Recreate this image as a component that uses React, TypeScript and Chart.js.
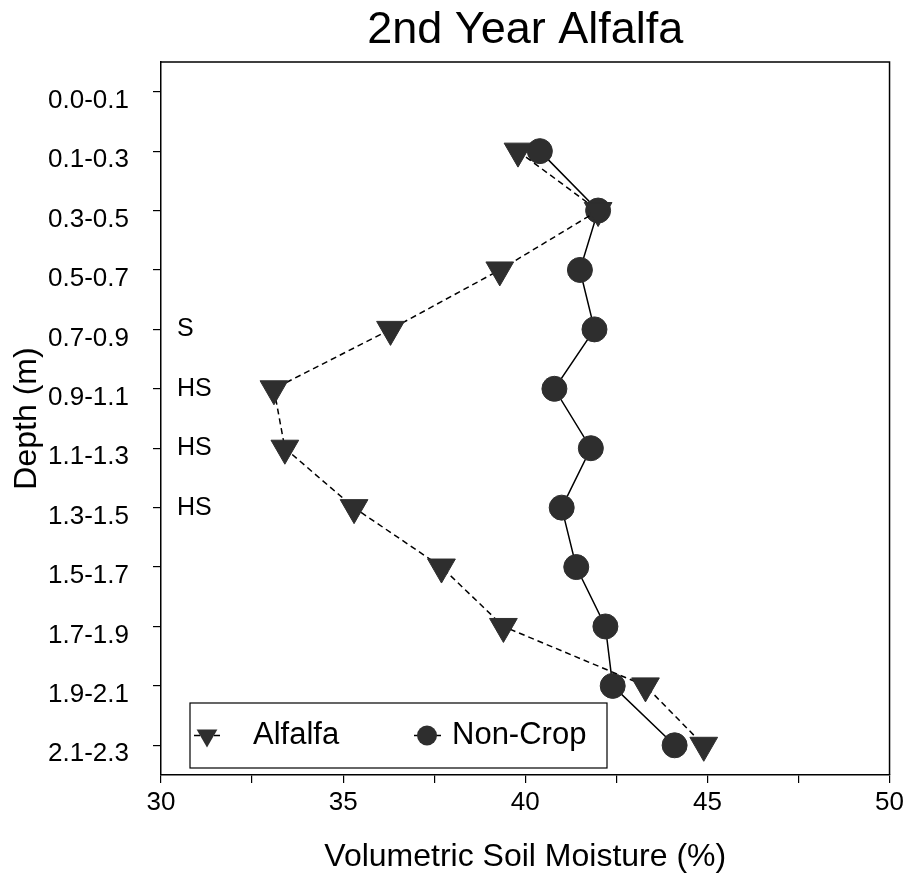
import { useEffect, useRef } from 'react';
import { Chart, registerables } from 'chart.js';

Chart.register(...registerables);

const chartTitle = '2nd Year Alfalfa';
const xAxisTitle = 'Volumetric Soil Moisture (%)';
const yAxisTitle = 'Depth (m)';

const depthLabels = [
  '0.0-0.1', '0.1-0.3', '0.3-0.5', '0.5-0.7', '0.7-0.9', '0.9-1.1',
  '1.1-1.3', '1.3-1.5', '1.5-1.7', '1.7-1.9', '1.9-2.1', '2.1-2.3',
];

const alfalfaValues = [null, 39.8, 42.0, 39.3, 36.3, 33.1, 33.4, 35.3, 37.7, 39.4, 43.3, 44.9];
const nonCropValues = [null, 40.4, 42.0, 41.5, 41.9, 40.8, 41.8, 41.0, 41.4, 42.2, 42.4, 44.1];

const xMin = 30;
const xMax = 50;
const xStep = 2.5;
const xLabelEvery = 5;

const annotationDepths = ['0.7-0.9', '0.9-1.1', '1.1-1.3', '1.3-1.5'];
const annotationTexts = ['S', 'HS', 'HS', 'HS'];

const FONT = '"Liberation Sans", Arial, Helvetica, sans-serif';
const MARK = '#2e2e2e';
const W = 908;
const H = 874;

function drawMarker(ctx: CanvasRenderingContext2D, style: string, cx: number, cy: number, r: number) {
  ctx.beginPath();
  if (style === 'triangle') {
    const s = Math.sin(Math.PI / 3) * r;
    ctx.moveTo(cx, cy + r);
    ctx.lineTo(cx - s, cy - r / 2);
    ctx.lineTo(cx + s, cy - r / 2);
    ctx.closePath();
  } else {
    ctx.arc(cx, cy, r, 0, Math.PI * 2);
  }
  ctx.fill();
}

const decorPlugin = {
  id: 'decor',
  afterDraw(chart: any) {
    const { ctx, chartArea, scales } = chart;
    ctx.save();
    ctx.strokeStyle = '#000';
    ctx.lineWidth = 1.5;
    ctx.setLineDash([]);
    ctx.beginPath();
    ctx.moveTo(chartArea.left, chartArea.top);
    ctx.lineTo(chartArea.right, chartArea.top);
    ctx.lineTo(chartArea.right, chartArea.bottom);
    ctx.stroke();

    ctx.fillStyle = '#000';
    ctx.font = `45px ${FONT}`;
    ctx.textAlign = 'center';
    ctx.textBaseline = 'middle';
    ctx.fillText(chartTitle, (chartArea.left + chartArea.right) / 2, 31);

    ctx.font = `25px ${FONT}`;
    ctx.textAlign = 'left';
    annotationDepths.forEach((d, i) => {
      const y = scales.y.getPixelForValue(depthLabels.indexOf(d));
      ctx.fillText(annotationTexts[i], scales.x.getPixelForValue(xMin) + 16, y);
    });

    const bl = chartArea.left + 29;
    const br = chartArea.left + 446;
    const bt = chartArea.bottom - 72;
    const bb = chartArea.bottom - 7;
    ctx.lineWidth = 1.2;
    ctx.strokeStyle = '#000';
    ctx.strokeRect(bl, bt, br - bl, bb - bt);
    const cy = (bt + bb) / 2;
    const items = [
      { ds: chart.data.datasets[0], mx: chartArea.left + 46, tx: chartArea.left + 92 },
      { ds: chart.data.datasets[1], mx: chartArea.left + 266, tx: chartArea.left + 291 },
    ];
    items.forEach(({ ds, mx, tx }) => {
      ctx.strokeStyle = ds.borderColor;
      ctx.lineWidth = ds.borderWidth;
      ctx.setLineDash(ds.borderDash || []);
      ctx.beginPath();
      ctx.moveTo(mx - 13, cy);
      ctx.lineTo(mx + 14, cy);
      ctx.stroke();
      ctx.setLineDash([]);
      ctx.fillStyle = ds.pointBackgroundColor;
      drawMarker(ctx, ds.pointStyle, mx, cy, ds.pointStyle === 'triangle' ? 12 : 10);
      ctx.fillStyle = '#000';
      ctx.font = `31px ${FONT}`;
      ctx.textAlign = 'left';
      ctx.textBaseline = 'middle';
      ctx.fillText(ds.label, tx, cy);
    });
    ctx.restore();
  },
};

export default function App() {
  const ref = useRef<HTMLCanvasElement>(null);
  useEffect(() => {
    if (!ref.current) return;
    const chart = new Chart(ref.current, {
      type: 'line',
      data: {
        labels: depthLabels,
        datasets: [
          {
            label: 'Alfalfa',
            data: alfalfaValues,
            borderColor: '#000',
            borderWidth: 1.5,
            borderDash: [6, 4],
            pointStyle: 'triangle',
            rotation: 180,
            pointRadius: 16,
            pointBackgroundColor: MARK,
            pointBorderColor: MARK,
            pointBorderWidth: 1,
            fill: false,
            tension: 0,
          },
          {
            label: 'Non-Crop',
            data: nonCropValues,
            borderColor: '#000',
            borderWidth: 1.5,
            pointStyle: 'circle',
            pointRadius: 12.5,
            pointBackgroundColor: MARK,
            pointBorderColor: MARK,
            pointBorderWidth: 1,
            fill: false,
            tension: 0,
          },
        ],
      } as any,
      options: {
        indexAxis: 'y',
        animation: false,
        responsive: false,
        layout: { padding: { top: 62, right: 13, left: 0, bottom: 0 } },
        plugins: {
          legend: { display: false },
          tooltip: { enabled: false },
          title: { display: false },
        },
        scales: {
          x: {
            type: 'linear',
            min: xMin,
            max: xMax,
            afterFit: (s: any) => {
              s.height = 99;
            },
            ticks: {
              stepSize: xStep,
              autoSkip: false,
              maxRotation: 0,
              color: '#000',
              padding: 4,
              font: { family: FONT, size: 26 },
              callback: (v: any) => (Number(v) % xLabelEvery === 0 ? String(v) : ''),
            },
            grid: { display: true, drawOnChartArea: false, drawTicks: true, tickLength: 8, color: '#000', lineWidth: 1.2 },
            border: { display: true, color: '#000', width: 1.5 },
            title: {
              display: true,
              text: xAxisTitle,
              color: '#000',
              font: { family: FONT, size: 32, lineHeight: 1 },
              padding: { top: 0, bottom: 1 },
            },
          },
          y: {
            type: 'category',
            offset: true,
            afterFit: (s: any) => {
              s.width = 161;
              s.paddingTop = 0;
              s.paddingBottom = 0;
            },
            ticks: {
              color: '#000',
              padding: 24,
              labelOffset: 9,
              autoSkip: false,
              font: { family: FONT, size: 26 },
            },
            grid: { display: true, drawOnChartArea: false, drawTicks: true, tickLength: 8, color: '#000', lineWidth: 1.2, offset: false },
            border: { display: true, color: '#000', width: 1.5 },
            title: {
              display: true,
              text: yAxisTitle,
              color: '#000',
              font: { family: FONT, size: 32, lineHeight: 1.2 },
              padding: { top: 8, bottom: 0 },
            },
          },
        },
      } as any,
      plugins: [decorPlugin],
    });
    return () => chart.destroy();
  }, []);
  return (
    <div style={{ position: 'fixed', left: 0, top: 0, width: W, height: H, background: '#fff' }}>
      <canvas ref={ref} width={W} height={H} style={{ display: 'block' }} />
    </div>
  );
}
